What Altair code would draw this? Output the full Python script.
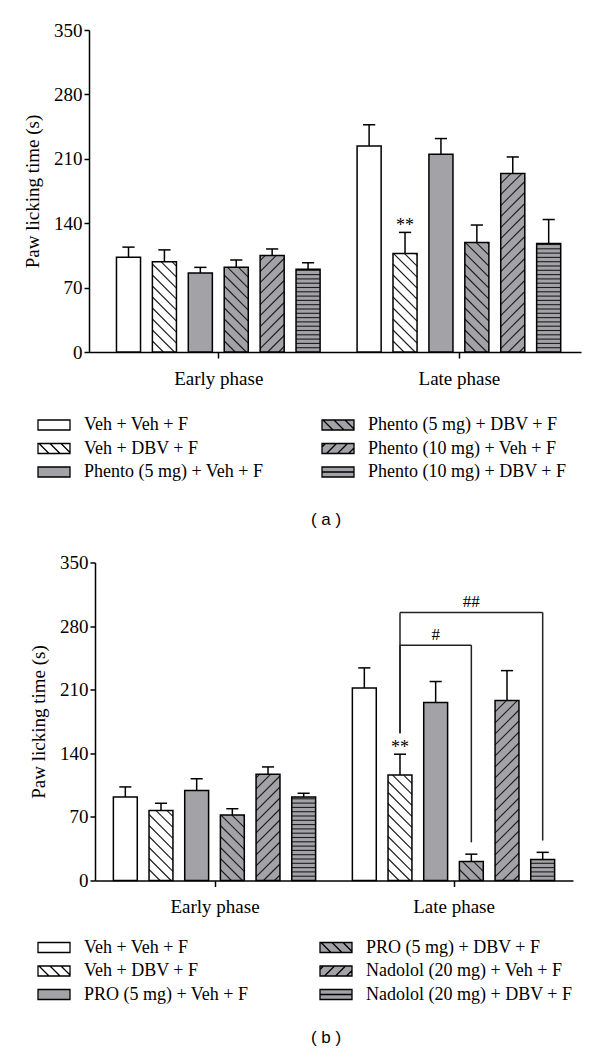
import altair as alt
import pandas as pd

# ---------------- data ----------------
PHASES = ["Early phase", "Late phase"]
Y_TICKS = [0, 70, 140, 210, 280, 350]
Y_TITLE = "Paw licking time (s)"

A_GROUPS = ["Veh + Veh + F", "Veh + DBV + F", "Phento (5 mg) + Veh + F",
            "Phento (5 mg) + DBV + F", "Phento (10 mg) + Veh + F", "Phento (10 mg) + DBV + F"]
A_EARLY = [103, 98, 86, 92, 105, 90]
A_EARLY_SEM = [11, 13, 6, 8, 7, 7]
A_LATE = [224, 107, 215, 119, 194, 118]
A_LATE_SEM = [23, 23, 17, 19, 18, 26]
A_STAR_PHASE = [1]
A_STAR_BAR = [1]
A_STAR_TEXT = ["**"]

B_GROUPS = ["Veh + Veh + F", "Veh + DBV + F", "PRO (5 mg) + Veh + F",
            "PRO (5 mg) + DBV + F", "Nadolol (20 mg) + Veh + F", "Nadolol (20 mg) + DBV + F"]
B_EARLY = [92, 77, 99, 72, 117, 92]
B_EARLY_SEM = [11, 8, 13, 7, 8, 4]
B_LATE = [212, 116, 196, 21, 198, 23]
B_LATE_SEM = [22, 23, 23, 8, 33, 8]
B_STAR_PHASE = [1]
B_STAR_BAR = [1]
B_STAR_TEXT = ["**"]
# significance brackets (late phase)
B_BR_LEFT = [1, 1]
B_BR_RIGHT = [3, 5]
B_BR_LEVEL = [259, 295]
B_BR_LEFT_END = [162, 162]
B_BR_RIGHT_END = [42, 44]
B_BR_TEXT = ["#", "##"]

# ---------------- styles / layout ----------------
GRAY = "#a3a3a7"
HATCH_COLOR = "#1c1c1c"
PATTERNS = ["none", "back", "none", "back", "fwd", "horiz"]
FILLS = ["#ffffff", "#ffffff", GRAY, GRAY, GRAY, GRAY]
SERIF = "Liberation Serif"
SANS = "Liberation Sans"
FS = 18
AXIS_FS = 19
Y_MAX = 350
PHASE_CENTER = [0.0, 6.7]
BAR_HALF = 0.335
CAP_HALF = 0.17
DIAG_STEP = 11.0
HORIZ_STEP = 4.3


def hatch_px(pattern, bw, hp, diag=DIAG_STEP, hstep=HORIZ_STEP):
    """hatch segments inside a bw x hp box, Y measured upwards (px)."""
    segs = []
    if pattern == "back":      # '\' on screen
        c = diag
        while c < bw + hp:
            xa, xb = max(0.0, c - hp), min(bw, c)
            if xb > xa:
                segs.append((xa, c - xa, xb, c - xb))
            c += diag
    elif pattern == "fwd":     # '/' on screen
        c = -bw + diag / 2
        while c < hp:
            xa, xb = max(0.0, -c), min(bw, hp - c)
            if xb > xa:
                segs.append((xa, xa + c, xb, xb + c))
            c += diag
    elif pattern == "horiz":
        y = hstep
        while y < hp - 1:
            segs.append((0.0, y, bw, y))
            y += hstep
    return segs


def bar_table(early, early_sem, late, late_sem):
    rows = []
    for p, (vals, sems) in enumerate([(early, early_sem), (late, late_sem)]):
        for i, (v, s) in enumerate(zip(vals, sems)):
            xc = PHASE_CENTER[p] + (i - 2.5)
            rows.append(dict(p=p, i=i, xc=xc, x0=xc - BAR_HALF, x1=xc + BAR_HALF,
                             v=v, top=v + s, zero=0, fill=FILLS[i], pattern=PATTERNS[i],
                             cap0=xc - CAP_HALF, cap1=xc + CAP_HALF))
    return pd.DataFrame(rows)


def make_plot(early, early_sem, late, late_sem, stars, W, H, xdom, brackets=None):
    bars = bar_table(early, early_sem, late, late_sem)
    kx = W / (xdom[1] - xdom[0])
    ky = H / Y_MAX
    segs = []
    for r in bars.itertuples():
        for (xa, ya, xb, yb) in hatch_px(r.pattern, (r.x1 - r.x0) * kx, r.v * ky):
            segs.append(dict(xa=r.x0 + xa / kx, ya=ya / ky, xb=r.x0 + xb / kx, yb=yb / ky))
    hatch = pd.DataFrame(segs)

    xs = alt.Scale(domain=list(xdom), nice=False, zero=False)
    ys = alt.Scale(domain=[0, Y_MAX], nice=False)
    label_expr = f"datum.value < {PHASE_CENTER[1] / 2} ? '{PHASES[0]}' : '{PHASES[1]}'"
    xaxis = alt.Axis(values=PHASE_CENTER, labelExpr=label_expr, title=None, grid=False,
                     tickSize=6, labelPadding=11, labelAngle=0)
    yaxis = alt.Axis(values=Y_TICKS, title=Y_TITLE, grid=False, tickSize=5,
                     labelPadding=2, titlePadding=11)

    base = alt.Chart(bars)

    def X(f, ax=None):
        return alt.X(f, scale=xs, axis=ax) if ax is not None else alt.X(f, scale=xs, title=None)

    def Y(f, ax=None):
        return alt.Y(f, scale=ys, axis=ax) if ax is not None else alt.Y(f, scale=ys, title=Y_TITLE)

    fills = base.mark_rect(strokeWidth=0).encode(
        x=X("x0:Q", xaxis), x2="x1:Q", y=Y("v:Q", yaxis), y2="zero:Q",
        fill=alt.Fill("fill:N", scale=None))
    lines = alt.Chart(hatch).mark_rule(color=HATCH_COLOR, strokeWidth=1.1).encode(
        x=X("xa:Q"), x2="xb:Q", y=Y("ya:Q"), y2="yb:Q")
    outline = base.mark_rect(filled=False, stroke="black", strokeWidth=1.5).encode(
        x=X("x0:Q"), x2="x1:Q", y=Y("v:Q"), y2="zero:Q")
    err = base.mark_rule(color="black", strokeWidth=1.5).encode(
        x=X("xc:Q"), y=Y("v:Q"), y2="top:Q")
    caps = base.mark_rule(color="black", strokeWidth=1.5).encode(
        x=X("cap0:Q"), x2="cap1:Q", y=Y("top:Q"))

    sp, sb, st = stars
    star_df = pd.DataFrame([
        dict(x=bars[(bars.p == p) & (bars.i == b)].xc.iloc[0],
             y=bars[(bars.p == p) & (bars.i == b)].top.iloc[0], t=t)
        for p, b, t in zip(sp, sb, st)])
    star = alt.Chart(star_df).mark_text(font=SERIF, fontSize=18, baseline="alphabetic",
                                        dy=-1, color="black").encode(
        x=X("x:Q"), y=Y("y:Q"), text="t:N")

    layers = [fills, lines, outline, err, caps, star]

    if brackets is not None:
        bl, br, lev, le, re_, bt = brackets
        late = bars[bars.p == 1].set_index("i")
        bdf = pd.DataFrame([
            dict(xl=late.xc[a], xr=late.xc[b], xm=(late.xc[a] + late.xc[b]) / 2,
                 lev=l, le=e1, re=e2, t=t)
            for a, b, l, e1, e2, t in zip(bl, br, lev, le, re_, bt)])
        bch = alt.Chart(bdf)
        layers += [
            bch.mark_rule(color="#222", strokeWidth=1.5).encode(x=X("xl:Q"), x2="xr:Q", y=Y("lev:Q")),
            bch.mark_rule(color="#222", strokeWidth=1.5).encode(x=X("xl:Q"), y=Y("le:Q"), y2="lev:Q"),
            bch.mark_rule(color="#222", strokeWidth=1.5).encode(x=X("xr:Q"), y=Y("re:Q"), y2="lev:Q"),
            bch.mark_text(font=SERIF, fontSize=17, baseline="alphabetic", dy=-5,
                          color="black").encode(x=X("xm:Q"), y=Y("lev:Q"), text="t:N"),
        ]
    return alt.layer(*layers).properties(width=W, height=H)


SW, SH = 32.0, 10.0


def swatch_path(pattern):
    s = 2.0 / SW
    hh = SH / 2 * s
    parts = [f"M-1,{-hh:.4f}H1V{hh:.4f}H-1Z"]
    for (xa, ya, xb, yb) in hatch_px(pattern, SW, SH, diag=11.0, hstep=SH / 2):
        parts.append(f"M{-1 + xa * s:.4f},{hh - ya * s:.4f}L{-1 + xb * s:.4f},{hh - yb * s:.4f}")
    return "".join(parts)


def make_legend(groups, W, origin, col_x, text_gap, row_y, row_step, LH, caption, cap_x, cap_y):
    rows = []
    for k, g in enumerate(groups):
        col, row = divmod(k, 3)
        rows.append(dict(label=g, sx=col_x[col], tx=col_x[col] + text_gap,
                         y=row_y + row * row_step, fill=FILLS[k], path=swatch_path(PATTERNS[k])))
    df = pd.DataFrame(rows)
    xs = alt.Scale(domain=[origin, origin + W], nice=False, zero=False)
    ys = alt.Scale(domain=[0, LH], nice=False, zero=False, reverse=True)
    sw = alt.Chart(df).mark_point(filled=True, size=SW * SW, stroke="black", strokeWidth=1.3,
                                  opacity=1).encode(
        x=alt.X("sx:Q", scale=xs, axis=None), y=alt.Y("y:Q", scale=ys, axis=None),
        shape=alt.Shape("path:N", scale=None), fill=alt.Fill("fill:N", scale=None))
    tx = alt.Chart(df).mark_text(font=SERIF, fontSize=FS, align="left", baseline="middle",
                                 color="black").encode(
        x=alt.X("tx:Q", scale=xs, axis=None), y=alt.Y("y:Q", scale=ys, axis=None), text="label:N")
    cap = alt.Chart(pd.DataFrame([dict(x=cap_x, y=cap_y, t=caption)])).mark_text(
        font=SANS, fontSize=17, align="center", baseline="middle", color="black").encode(
        x=alt.X("x:Q", scale=xs, axis=None), y=alt.Y("y:Q", scale=ys, axis=None), text="t:N")
    return alt.layer(sw, tx, cap).properties(width=W, height=LH)


def spacer(w):
    return alt.Chart(pd.DataFrame({"t": [""]})).mark_text().encode(
        text="t:N").properties(width=w, height=1)


WA, HA, XDA = 492, 322, (-3.6, 10.1)
WB, HB, XDB = 478, 318, (-3.35, 10.05)
ORIGIN_A, ORIGIN_B = 88, 94

plot_a = make_plot(A_EARLY, A_EARLY_SEM, A_LATE, A_LATE_SEM,
                   (A_STAR_PHASE, A_STAR_BAR, A_STAR_TEXT), WA, HA, XDA)
plot_b = make_plot(B_EARLY, B_EARLY_SEM, B_LATE, B_LATE_SEM,
                   (B_STAR_PHASE, B_STAR_BAR, B_STAR_TEXT), WB, HB, XDB,
                   brackets=(B_BR_LEFT, B_BR_RIGHT, B_BR_LEVEL, B_BR_LEFT_END,
                             B_BR_RIGHT_END, B_BR_TEXT))

leg_a = make_legend(A_GROUPS, WA, ORIGIN_A, [53, 337], 30, 11, 23.5, 120, "( a )", 325, 106)
leg_b = make_legend(B_GROUPS, WB, ORIGIN_B, [53, 335], 30, 11, 23.5, 116, "( b )", 325, 101)

panel_a = alt.hconcat(spacer(1), alt.vconcat(plot_a, leg_a, spacing=26), spacing=0)
panel_b = alt.hconcat(spacer(1 + ORIGIN_B - ORIGIN_A), alt.vconcat(plot_b, leg_b, spacing=20),
                      spacing=0)

chart = alt.vconcat(panel_a, panel_b, spacing=19.5).properties(
    padding={"left": 14, "top": 13, "right": 2, "bottom": 0},
    background="white"
).configure_view(strokeWidth=0, stroke="transparent").configure_axis(
    labelFont=SERIF, labelFontSize=AXIS_FS, labelColor="black",
    titleFont=SERIF, titleFontSize=AXIS_FS, titleFontWeight="normal", titleColor="black",
    domainColor="black", tickColor="black", domainWidth=1.5, tickWidth=1.5
)

chart.save("out.html", embed_options={"renderer": "svg", "actions": False})
